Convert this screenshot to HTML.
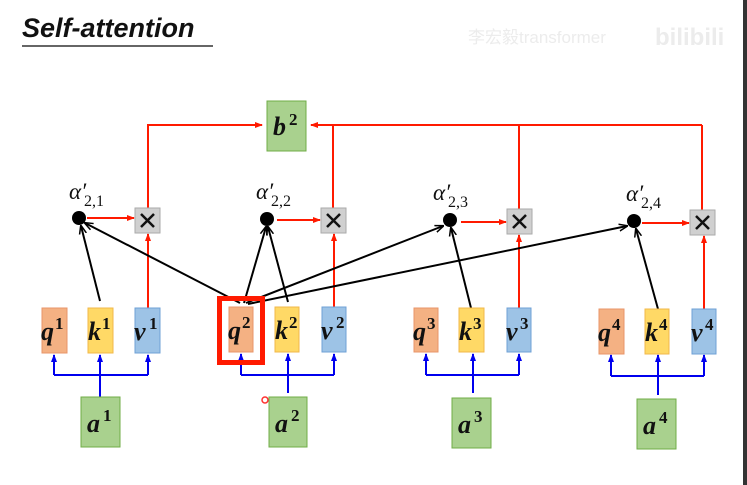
<!DOCTYPE html>
<html><head><meta charset="utf-8"><style>
html,body{margin:0;padding:0;background:#fff;}
svg{display:block;}
.lb{font-family:"Liberation Serif",serif;font-weight:bold;font-style:italic;font-size:26px;fill:#111;}
.al{font-family:"Liberation Serif",serif;font-style:italic;font-size:23px;fill:#111;}
.sub{font-family:"Liberation Serif",serif;font-size:16px;fill:#111;}
.sup{font-family:"Liberation Serif",serif;font-size:17px;font-weight:bold;fill:#111;}
</style></head><body>
<svg width="747" height="485" viewBox="0 0 747 485" xmlns="http://www.w3.org/2000/svg">
<defs>
<marker id="ar" markerWidth="8" markerHeight="8" refX="7" refY="4" orient="auto" markerUnits="userSpaceOnUse"><path d="M0,1 L8,4 L0,7 z" fill="#ff1a00"/></marker>
<marker id="ab" markerWidth="8" markerHeight="8" refX="7" refY="4" orient="auto" markerUnits="userSpaceOnUse"><path d="M0,1 L8,4 L0,7 z" fill="#0000ee"/></marker>
<marker id="ak" markerWidth="9" markerHeight="9" refX="8" refY="4.5" orient="auto" markerUnits="userSpaceOnUse"><path d="M0,1 L9,4.5 L0,8" fill="none" stroke="#000" stroke-width="1.5"/></marker>
</defs>
<rect x="743" y="0" width="4" height="485" fill="#333"/>
<text x="22" y="37" font-family="Liberation Sans,sans-serif" font-weight="bold" font-style="italic" font-size="27" fill="#111">Self-attention</text>
<line x1="22" y1="46" x2="213" y2="46" stroke="#333" stroke-width="1.5"/>
<text x="468" y="43" font-family="Liberation Sans,'Noto Sans CJK SC',sans-serif" font-size="17" fill="#ececec">李宏毅transformer</text>
<text x="655" y="45" font-family="Liberation Sans,sans-serif" font-weight="bold" font-size="24" fill="#ececec">bilibili</text>

<g stroke="#ff1a00" stroke-width="2" fill="none">
<polyline points="148,208 148,125 262,125" marker-end="url(#ar)"/>
<line x1="702" y1="125" x2="311" y2="125" marker-end="url(#ar)"/>
<line x1="702" y1="125" x2="702" y2="210"/>
<line x1="519" y1="125" x2="519" y2="209"/>
<line x1="333" y1="125" x2="333" y2="208"/>
<line x1="87" y1="218" x2="134" y2="218" marker-end="url(#ar)"/>
<line x1="277" y1="220" x2="320" y2="220" marker-end="url(#ar)"/>
<line x1="461" y1="222" x2="506" y2="222" marker-end="url(#ar)"/>
<line x1="642" y1="223" x2="689" y2="223" marker-end="url(#ar)"/>
<line x1="148" y1="308" x2="148" y2="234" marker-end="url(#ar)"/>
<line x1="334" y1="307" x2="334" y2="234" marker-end="url(#ar)"/>
<line x1="519" y1="308" x2="519" y2="235" marker-end="url(#ar)"/>
<line x1="704" y1="309" x2="704" y2="236" marker-end="url(#ar)"/>
</g>
<rect x="267" y="101" width="39" height="50" fill="#a9d18e" stroke="#70ad47"/>
<text x="273" y="135" class="lb">b</text><text x="289" y="125" class="sup">2</text>

<g fill="#d0d0d0" stroke="#aaa">
<rect x="135" y="208" width="25" height="25"/><rect x="321" y="208" width="25" height="25"/>
<rect x="507" y="209" width="25" height="25"/><rect x="690" y="210" width="25" height="25"/>
</g>
<g stroke="#111" stroke-width="2.5">
<path d="M141,214 L154,227 M154,214 L141,227"/>
<path d="M327,214 L340,227 M340,214 L327,227"/>
<path d="M513,215 L526,228 M526,215 L513,228"/>
<path d="M696,216 L709,229 M709,216 L696,229"/>
</g>

<g stroke="#000" stroke-width="2" fill="none">
<line x1="100" y1="301" x2="81" y2="226" marker-end="url(#ak)"/>
<line x1="240" y1="303" x2="85" y2="223" marker-end="url(#ak)"/>
<line x1="244" y1="303" x2="266" y2="227" marker-end="url(#ak)"/>
<line x1="288" y1="302" x2="268" y2="227" marker-end="url(#ak)"/>
<line x1="246" y1="303" x2="443" y2="226" marker-end="url(#ak)"/>
<line x1="248" y1="304" x2="627" y2="226" marker-end="url(#ak)"/>
<line x1="471" y1="308" x2="451" y2="228" marker-end="url(#ak)"/>
<line x1="658" y1="309" x2="636" y2="229" marker-end="url(#ak)"/>
</g>
<g fill="#000">
<circle cx="79" cy="218" r="7"/><circle cx="267" cy="219" r="7"/>
<circle cx="450" cy="220" r="7"/><circle cx="634" cy="221" r="7"/>
</g>
<text x="69" y="199" class="al">α′</text><text x="84" y="206" class="sub">2,1</text>
<text x="256" y="199" class="al">α′</text><text x="271" y="206" class="sub">2,2</text>
<text x="433" y="200" class="al">α′</text><text x="448" y="207" class="sub">2,3</text>
<text x="626" y="201" class="al">α′</text><text x="641" y="208" class="sub">2,4</text>

<g stroke="#0000ee" stroke-width="2" fill="none">
<polyline points="54,375 148,375"/><line x1="100" y1="397" x2="100" y2="355" marker-end="url(#ab)"/>
<line x1="54" y1="375" x2="54" y2="355" marker-end="url(#ab)"/><line x1="148" y1="375" x2="148" y2="355" marker-end="url(#ab)"/>
<polyline points="241,375 334,375"/><line x1="288" y1="393" x2="288" y2="354" marker-end="url(#ab)"/>
<line x1="241" y1="375" x2="241" y2="354" marker-end="url(#ab)"/><line x1="334" y1="375" x2="334" y2="354" marker-end="url(#ab)"/>
<polyline points="426,375 519,375"/><line x1="473" y1="393" x2="473" y2="354" marker-end="url(#ab)"/>
<line x1="426" y1="375" x2="426" y2="354" marker-end="url(#ab)"/><line x1="519" y1="375" x2="519" y2="354" marker-end="url(#ab)"/>
<polyline points="611,376 704,376"/><line x1="658" y1="395" x2="658" y2="355" marker-end="url(#ab)"/>
<line x1="611" y1="376" x2="611" y2="355" marker-end="url(#ab)"/><line x1="704" y1="376" x2="704" y2="355" marker-end="url(#ab)"/>
</g>

<g>
<rect x="42" y="308" width="25" height="45" fill="#f4b183" stroke="#e8956a"/>
<rect x="88" y="308" width="25" height="45" fill="#ffd966" stroke="#f2b84a"/>
<rect x="135" y="308" width="25" height="45" fill="#9dc3e6" stroke="#6fa0d6"/>
<rect x="229" y="307" width="24" height="45" fill="#f4b183" stroke="#e8956a"/>
<rect x="275" y="307" width="24" height="45" fill="#ffd966" stroke="#f2b84a"/>
<rect x="322" y="307" width="24" height="45" fill="#9dc3e6" stroke="#6fa0d6"/>
<rect x="414" y="308" width="24" height="44" fill="#f4b183" stroke="#e8956a"/>
<rect x="459" y="308" width="25" height="44" fill="#ffd966" stroke="#f2b84a"/>
<rect x="507" y="308" width="24" height="44" fill="#9dc3e6" stroke="#6fa0d6"/>
<rect x="599" y="309" width="25" height="45" fill="#f4b183" stroke="#e8956a"/>
<rect x="645" y="309" width="24" height="45" fill="#ffd966" stroke="#f2b84a"/>
<rect x="692" y="309" width="24" height="45" fill="#9dc3e6" stroke="#6fa0d6"/>
</g>
<rect x="219.5" y="298.5" width="43" height="64" fill="none" stroke="#ff1a00" stroke-width="5"/>
<g class="lb">
<text x="41" y="340">q</text><text x="88" y="340">k</text><text x="134" y="340">v</text>
<text x="228" y="339">q</text><text x="275" y="339">k</text><text x="321" y="339">v</text>
<text x="413" y="340">q</text><text x="459" y="340">k</text><text x="506" y="340">v</text>
<text x="598" y="341">q</text><text x="645" y="341">k</text><text x="691" y="341">v</text>
</g>
<g class="sup">
<text x="55" y="329">1</text><text x="102" y="329">1</text><text x="149" y="329">1</text>
<text x="242" y="328">2</text><text x="289" y="328">2</text><text x="336" y="328">2</text>
<text x="427" y="329">3</text><text x="473" y="329">3</text><text x="520" y="329">3</text>
<text x="612" y="330">4</text><text x="659" y="330">4</text><text x="705" y="330">4</text>
</g>

<g fill="#a9d18e" stroke="#70ad47">
<rect x="81" y="397" width="39" height="50"/><rect x="269" y="397" width="38" height="50"/>
<rect x="452" y="398" width="39" height="50"/><rect x="637" y="399" width="39" height="50"/>
</g>
<g class="lb"><text x="87" y="432">a</text><text x="275" y="432">a</text><text x="458" y="433">a</text><text x="643" y="434">a</text></g>
<g class="sup"><text x="103" y="421">1</text><text x="291" y="421">2</text><text x="474" y="422">3</text><text x="659" y="423">4</text></g>
<circle cx="265" cy="400" r="3" fill="none" stroke="#ff3030" stroke-width="1.5"/>
</svg>
</body></html>
